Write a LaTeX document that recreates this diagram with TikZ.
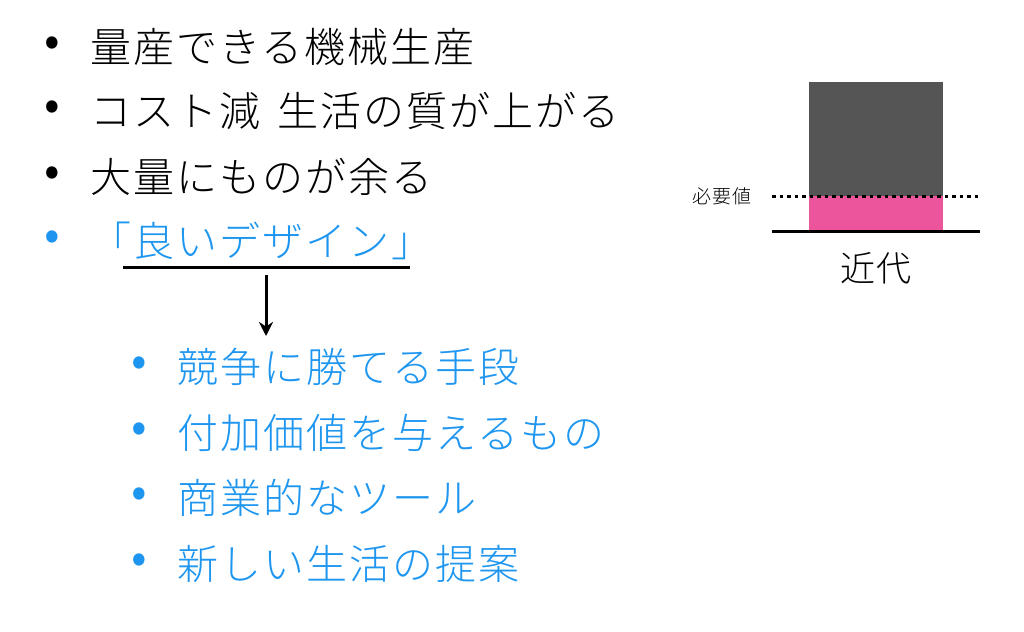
\documentclass[tikz,border=0pt]{standalone}
\usepackage{fontspec}
\newfontfamily\jp{Noto Sans CJK JP Light}[LetterSpace=5]
\newfontfamily\jpb{Noto Sans CJK JP}
\usetikzlibrary{arrows.meta}
\definecolor{blu}{RGB}{30,150,240}
\definecolor{pnk}{RGB}{236,85,155}
\definecolor{gry}{RGB}{85,85,85}
\begin{document}
\begin{tikzpicture}[x=1pt,y=-1pt,
  item/.style={anchor=west,inner sep=0pt,font=\jp\fontsize{41}{41}\selectfont},
  bul/.style={inner sep=0pt,font=\jpb\fontsize{46}{46}\selectfont},
  small/.style={inner sep=0pt,font=\jp\fontsize{19}{19}\selectfont},
  era/.style={inner sep=0pt,font=\jp\fontsize{35}{35}\selectfont}]
\useasboundingbox (0,0) rectangle (1024,631);
% main items
\node[bul] (b1) at (52.5,47) {•};
\node[item] (t1) at (90,47) {量産できる機械生産};
\node[bul] (b2) at (52.5,111) {•};
\node[item] (t2) at (90,111) {コスト減\hspace{6pt} 生活の質が上がる};
\node[bul] (b3) at (52.5,177) {•};
\node[item] (t3) at (90,177) {大量にものが余る};
\node[bul,text=blu] (b4) at (52.5,241) {•};
\node[item,text=blu] (t4) at (90,241) {「良いデザイン」};
% underline and arrow
\coordinate (u1) at (123,267);
\coordinate (u2) at (410,267);
\draw[line width=3pt] (u1) -- (u2);
\coordinate (a1) at (266,275);
\coordinate (a2) at (266,336);
\draw[line width=3pt,-{Stealth[length=14pt,width=14pt]}] (a1) -- (a2);
% sub items
\node[bul,text=blu] (s1b) at (139.5,367) {•};
\node[item,text=blu] (s1) at (177,367) {競争に勝てる手段};
\node[bul,text=blu] (s2b) at (139.5,433) {•};
\node[item,text=blu] (s2) at (177,433) {付加価値を与えるもの};
\node[bul,text=blu] (s3b) at (139.5,498) {•};
\node[item,text=blu] (s3) at (177,498) {商業的なツール};
\node[bul,text=blu] (s4b) at (139.5,564) {•};
\node[item,text=blu] (s4) at (177,564) {新しい生活の提案};
% chart
\fill[gry] (809,82) rectangle (943,196);
\fill[pnk] (809,196) rectangle (943,230);
\coordinate (d1) at (772,196);
\coordinate (d2) at (980,196);
\draw[line width=3pt,dash pattern=on 3.5pt off 4pt] (d1) -- (d2);
\coordinate (g1) at (772,231);
\coordinate (g2) at (980,231);
\draw[line width=3pt] (g1) -- (g2);
\node[small] (need) at (722,196) {必要値};
\node[era] (kindai) at (876,268) {近代};
\end{tikzpicture}
\end{document}
